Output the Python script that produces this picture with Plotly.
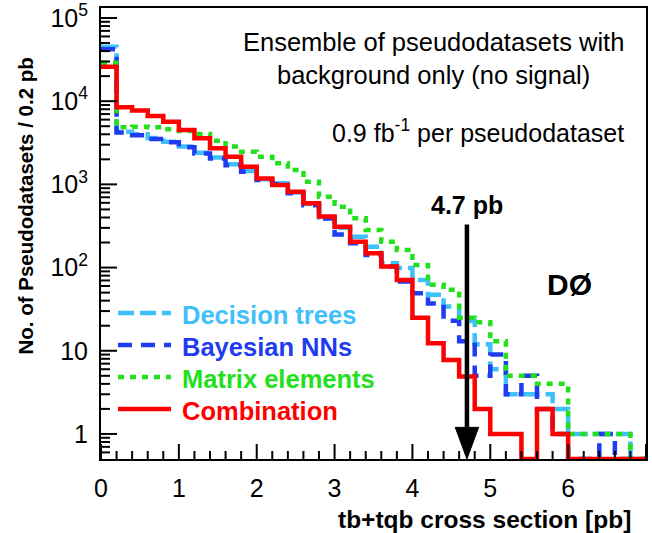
import numpy as np
import plotly.graph_objects as go

# ---------------- data (counts per 0.2 pb bin, 0..7 pb) ----------------
bin_edges = [round(0.2 * i, 1) for i in range(36)]

decision_trees = [45000, 4300, 4000, 3600, 3250, 2850, 2400, 2100, 1750, 1450,
                  1150, 1030, 800, 580, 400, 300, 235, 178, 113, 99,
                  71, 47, 34, 23, 12, 6, 3, 3, 3, 2,
                  1, 1, 1, 1, 0]
bayesian_nns = [42000, 4200, 3900, 3500, 3200, 2800, 2350, 2050, 1700, 1420,
                1130, 1000, 780, 560, 390, 250, 196, 142, 103, 68,
                49, 37, 23, 13, 5, 9, 3, 5, 2, 1,
                0, 0, 1, 0, 0]
matrix_elements = [29000, 4860, 4940, 4860, 4590, 4385, 4035, 3355, 2845, 2470,
                   2155, 1790, 1490, 1078, 711, 540, 391, 283, 205, 163,
                   107, 62, 54, 25, 22, 13, 5, 5, 4, 4,
                   1, 1, 1, 1, 0]
combination = [26000, 8450, 7700, 6640, 5670, 4500, 3580, 2715, 2150, 1630,
               1180, 984, 818, 593, 410, 310, 205, 149, 103, 71,
               25, 12.3, 7.75, 4.9, 2, 1, 1, 0, 2, 1,
               0, 0, 0, 0, 0]

series_names = ["Decision trees", "Bayesian NNs", "Matrix elements", "Combination"]
series_colors = ["#3fc0f8", "#1f3cf0", "#22e01c", "#ff0000"]
series_dash = ["16px,6px", "14px,9px", "6px,6px", "solid"]

y_major_ticks = [1, 10, 100, 1000, 10000, 100000]
y_major_labels = ["1", "10", "10<sup>2</sup>", "10<sup>3</sup>", "10<sup>4</sup>", "10<sup>5</sup>"]
x_major_ticks = [0, 1, 2, 3, 4, 5, 6, 7]

observed_limit = 4.7  # pb
y_floor = 0.5

# ---------------- figure ----------------
W, H = 652, 533
ml, mr, mt, mb = 101, 6, 8, 74
pw, ph = W - ml - mr, H - mt - mb
x_range = [0, 7]
y_range = [float(np.log10(y_floor)), 5.12]


def px2paper_x(px):
    return (px - ml) / pw


def px2paper_y(py):
    return (H - mb - py) / ph


fig = go.Figure()

all_series = [decision_trees, bayesian_nns, matrix_elements, combination]
for name, vals, col, dash in zip(series_names, all_series, series_colors, series_dash):
    yv = [max(v, y_floor) for v in vals]
    yv = yv + [yv[-1]]
    fig.add_trace(go.Scatter(
        x=bin_edges, y=yv, mode="lines", line_shape="hv",
        line=dict(color=col, width=4.5, dash=dash),
        name=name, showlegend=False,
    ))

# arrow at the observed limit
stem_top = 330
head_top = 1.2
head_half = 0.15
fig.add_trace(go.Scatter(
    x=[observed_limit, observed_limit], y=[stem_top, head_top], mode="lines",
    line=dict(color="black", width=4.5), showlegend=False, hoverinfo="skip"))
fig.add_trace(go.Scatter(
    x=[observed_limit - head_half, observed_limit + head_half, observed_limit, observed_limit - head_half],
    y=[head_top, head_top, y_floor, head_top], mode="lines", fill="toself",
    fillcolor="black", line=dict(color="black", width=1), showlegend=False, hoverinfo="skip"))

# tick marks pointing inward from the bottom and left axis lines (ROOT style)
y_minor_ticks = [m * 10.0 ** k for k in range(-1, 5) for m in range(2, 10) if m * 10.0 ** k > y_floor]
x_minor_ticks = [round(0.2 * i, 1) for i in range(36) if i % 5 != 0]
dec_per_px = (y_range[1] - y_range[0]) / ph
x_units_per_px = (x_range[1] - x_range[0]) / pw


def x_tick_path(ticks, length_px):
    xs, ys = [], []
    for t in ticks:
        xs += [t, t, None]
        ys += [y_floor, y_floor * 10 ** (length_px * dec_per_px), None]
    return xs, ys


def y_tick_path(ticks, length_px):
    xs, ys = [], []
    for t in ticks:
        xs += [x_range[0], x_range[0] + length_px * x_units_per_px, None]
        ys += [t, t, None]
    return xs, ys


for (xs, ys) in [x_tick_path(x_major_ticks, 15), x_tick_path(x_minor_ticks, 8),
                 y_tick_path(y_major_ticks, 16), y_tick_path(y_minor_ticks, 9)]:
    fig.add_trace(go.Scatter(x=xs, y=ys, mode="lines", line=dict(color="black", width=2),
                             showlegend=False, hoverinfo="skip", connectgaps=False))

font_family = "Liberation Sans, Arial, Helvetica, sans-serif"

fig.update_layout(
    template="none",
    width=W, height=H,
    margin=dict(l=ml, r=mr, t=mt, b=mb, autoexpand=False),
    paper_bgcolor="white", plot_bgcolor="white",
    font=dict(family=font_family, size=22, color="black"),
    showlegend=False,
    xaxis=dict(
        range=x_range, tickmode="array", tickvals=x_major_ticks, automargin=False,
        ticks="", showline=True, linewidth=2, linecolor="black", mirror=True,
        showgrid=False, zeroline=False,
        tickfont=dict(size=25), ticklabelstandoff=6,
    ),
    yaxis=dict(
        type="log", range=y_range, tickmode="array", tickvals=y_major_ticks,
        ticktext=y_major_labels, automargin=False,
        ticks="", showline=True, linewidth=2, linecolor="black", mirror=True,
        showgrid=False, zeroline=False,
        tickfont=dict(size=25), ticklabelstandoff=6,
    ),
)

# legend drawn by hand (line sample + coloured bold label)
legend_y_px = [313, 345, 377, 409]
for name, col, dash, ypx in zip(series_names, series_colors, series_dash, legend_y_px):
    fig.add_shape(type="line", xref="paper", yref="paper",
                  x0=px2paper_x(118), x1=px2paper_x(171),
                  y0=px2paper_y(ypx), y1=px2paper_y(ypx),
                  line=dict(color=col, width=4.5, dash=dash))
    fig.add_annotation(text=f"<b>{name}</b>", xref="paper", yref="paper",
                       x=px2paper_x(180), y=px2paper_y(ypx + 2), xanchor="left", yanchor="middle",
                       showarrow=False, font=dict(size=25.5, color=col))

annots = [
    dict(text="Ensemble of pseudodatasets with", x=px2paper_x(433), y=px2paper_y(42),
         xanchor="center", yanchor="middle", font=dict(size=25.5)),
    dict(text="background only (no signal)", x=px2paper_x(433), y=px2paper_y(75),
         xanchor="center", yanchor="middle", font=dict(size=25.5)),
    dict(text="0.9 fb<sup>-1</sup> per pseudodataset", x=px2paper_x(626), y=px2paper_y(131),
         xanchor="right", yanchor="middle", font=dict(size=25)),
    dict(text="<b>4.7 pb</b>", x=px2paper_x(467), y=px2paper_y(205),
         xanchor="center", yanchor="middle", font=dict(size=25)),
    dict(text="<b>DØ</b>", x=px2paper_x(569), y=px2paper_y(284),
         xanchor="center", yanchor="middle", font=dict(size=30)),
    dict(text="<b>tb+tqb cross section [pb]</b>", x=px2paper_x(633), y=px2paper_y(519),
         xanchor="right", yanchor="middle", font=dict(size=24.5)),
    dict(text="<b>No. of Pseudodatasets / 0.2 pb</b>", x=px2paper_x(25), y=px2paper_y(56),
         xanchor="center", yanchor="top", textangle=-90, font=dict(size=20.5)),
]
for a in annots:
    a.update(xref="paper", yref="paper", showarrow=False)
    fig.add_annotation(**a)

fig.write_html("out.html", config={"displayModeBar": False},
               post_script="document.body.style.margin='0px';")
